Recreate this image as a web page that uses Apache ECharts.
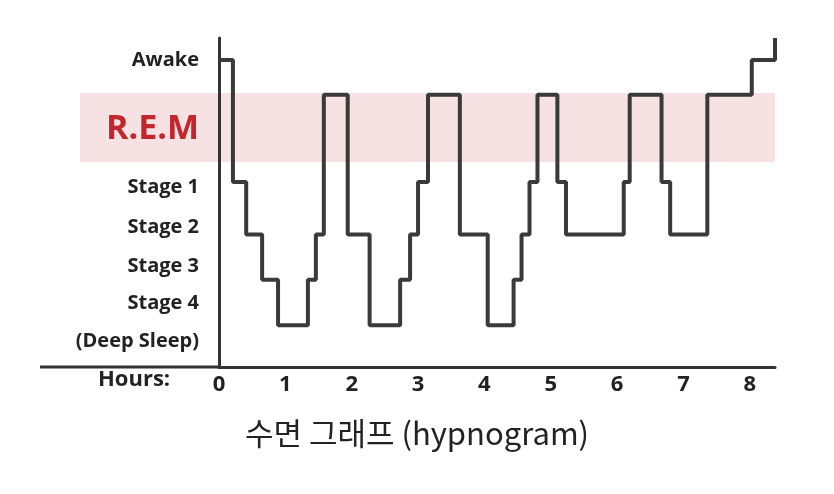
<!DOCTYPE html>
<html>
<head>
<meta charset="utf-8">
<script src="https://cdn.jsdelivr.net/npm/echarts@6/dist/echarts.min.js"></script>
<style>html,body{margin:0;padding:0;background:#fff}#chart{width:834px;height:494px}</style>
</head>
<body>
<div id="chart"></div>
<script>
// sleep stages and their depth on the vertical scale
var stageNames = ['Awake', 'R.E.M', 'Stage 1', 'Stage 2', 'Stage 3', 'Stage 4'];
var stageDepth = [0, 1, 3.5, 5, 6.3, 7.6];

// hour at which each stage begins (step ends with the final rise)
var stepHours = [0, 0.21, 0.41, 0.65, 0.89, 1.34, 1.46, 1.58, 1.94, 2.27, 2.73, 2.88, 3.0, 3.15,
  3.63, 4.05, 4.44, 4.56, 4.68, 4.8, 5.1, 5.23, 6.1, 6.19, 6.67, 6.8, 7.36, 8.03, 8.38];
var stepStages = ['Awake', 'Stage 1', 'Stage 2', 'Stage 3', 'Stage 4', 'Stage 3', 'Stage 2', 'R.E.M',
  'Stage 2', 'Stage 4', 'Stage 3', 'Stage 2', 'Stage 1', 'R.E.M', 'Stage 2', 'Stage 4', 'Stage 3',
  'Stage 2', 'Stage 1', 'R.E.M', 'Stage 1', 'Stage 2', 'Stage 1', 'R.E.M', 'Stage 1', 'Stage 2',
  'R.E.M', 'Awake', 'Awake'];

// y axis label positions
var labelValues = [0, 2.0, 3.64, 4.8, 5.9, 6.97, 8.06];
var labelTexts = ['Awake', 'R.E.M', 'Stage 1', 'Stage 2', 'Stage 3', 'Stage 4', '(Deep Sleep)'];

var yMin = -0.63, yMax = 8.8;

var lineData = stepHours.map(function (h, i) {
  return [h, stageDepth[stageNames.indexOf(stepStages[i])]];
});
lineData.push([8.38, yMin]);

var chart = echarts.init(document.getElementById('chart'), null, {renderer: 'canvas'});
var font = '"Open Sans", "Noto Sans", sans-serif';

chart.setOption({
  animation: false,
  graphic: [
    {type: 'rect', z: -1, shape: {x: 80, y: 93, width: 695, height: 69}, style: {fill: '#f6e1e3'}},
    {type: 'line', shape: {x1: 40, y1: 367, x2: 219, y2: 367}, style: {stroke: '#333', lineWidth: 3}},
    {type: 'text', left: 98, top: 369, style: {text: 'Hours:', font: 'bold 22px ' + font, fill: '#222'}},
    {type: 'text', left: 'center', top: 418, style: {text: '수면 그래프 (hypnogram)', font: '31px "Noto Sans CJK KR"', fill: '#222'}}
  ],
  grid: {left: 219, right: 59, top: 38, bottom: 127},
  xAxis: {
    type: 'value', min: 0, max: 8.38, interval: 1,
    axisLine: {onZero: false, lineStyle: {color: '#333', width: 3}},
    axisTick: {show: false}, splitLine: {show: false},
    axisLabel: {showMaxLabel: false, color: '#222', fontWeight: 'bold', fontSize: 22, fontFamily: font, margin: 7}
  },
  yAxis: {
    type: 'value', inverse: true, min: yMin, max: yMax,
    axisLine: {show: true, onZero: false, lineStyle: {color: '#333', width: 3}},
    axisTick: {show: false}, splitLine: {show: false},
    axisLabel: {
      customValues: labelValues, margin: 20, color: '#222', fontFamily: font,
      fontWeight: 'bold', fontSize: 20,
      formatter: function (v) {
        var i = labelValues.indexOf(v);
        var t = labelTexts[i];
        return t === 'R.E.M' ? '{rem|' + t + '}' : t;
      },
      rich: {rem: {color: '#c3262c', fontSize: 34, fontWeight: 'bold', fontFamily: font}}
    }
  },
  series: [{
    type: 'line', step: 'end', data: lineData, symbol: 'none',
    lineStyle: {color: '#3a3a3a', width: 4}
  }]
});
</script>
</body>
</html>
